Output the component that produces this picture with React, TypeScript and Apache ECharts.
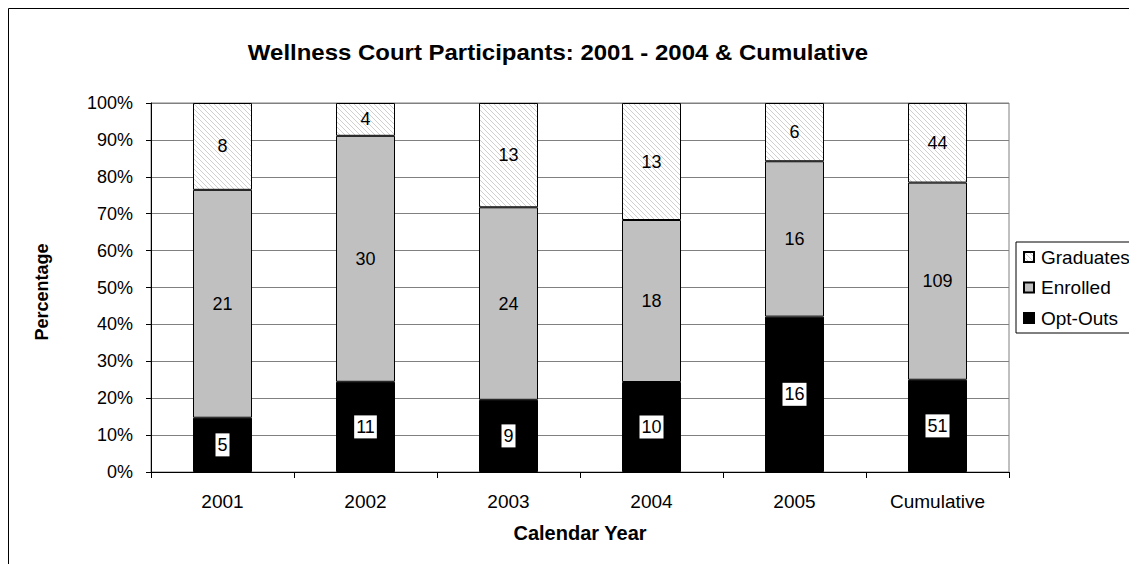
import React, { useEffect, useRef } from "react";
import * as echarts from "echarts";

const categories = ["2001", "2002", "2003", "2004", "2005", "Cumulative"];
const optOuts = [5, 11, 9, 10, 16, 51];
const enrolled = [21, 30, 24, 18, 16, 109];
const graduates = [8, 4, 13, 13, 6, 44];
const legendOrder = ["Graduates", "Enrolled", "Opt-Outs"];

const FONT = '"Liberation Sans", Arial, Helvetica, sans-serif';

function makeHatch() {
  const size = 5;
  const c = document.createElement("canvas");
  c.width = size;
  c.height = size;
  const ctx = c.getContext("2d")!;
  ctx.fillStyle = "#ffffff";
  ctx.fillRect(0, 0, size, size);
  ctx.strokeStyle = "#cfcfcf";
  ctx.lineWidth = 1;
  for (const k of [-size, 0, size]) {
    ctx.beginPath();
    ctx.moveTo(k, 0);
    ctx.lineTo(k + size, size);
    ctx.stroke();
  }
  return { url: c.toDataURL(), size };
}

export default function App() {
  const ref = useRef<HTMLDivElement>(null);

  useEffect(() => {
    if (!ref.current) return;
    const chart = echarts.init(ref.current, null, { renderer: "svg" });
    const totals = categories.map((_, i) => optOuts[i] + enrolled[i] + graduates[i]);
    const toData = (arr: number[]) =>
      arr.map((v, i) => ({ value: (v / totals[i]) * 100, count: v }));
    const hatch = makeHatch();
    const hatchFill: any = {
      image: hatch.url,
      repeat: "repeat",
      imageWidth: hatch.size,
      imageHeight: hatch.size,
    };

    const baseLabel = {
      show: true,
      position: "inside",
      color: "#000",
      fontSize: 18,
      fontFamily: FONT,
      formatter: (p: any) => String(p.data.count),
    };

    const option: any = {
      animation: false,
      backgroundColor: "#ffffff",
      textStyle: { fontFamily: FONT },
      grid: {
        left: 143,
        top: 95,
        right: 128,
        bottom: 92,
        show: true,
        borderColor: "#808080",
        borderWidth: 1,
        backgroundColor: "transparent",
      },
      legend: {
        data: legendOrder,
        orient: "vertical",
        left: 1008,
        top: 234,
        itemWidth: 10,
        itemHeight: 10,
        itemGap: 8.5,
        padding: [4, 6, 4, 7],
        borderColor: "#000",
        borderWidth: 1,
        backgroundColor: "#fff",
        icon: "rect",
        textStyle: {
          color: "#000",
          fontSize: 19,
          fontFamily: FONT,
          lineHeight: 22,
          padding: [0, 0, 0, 2],
        },
      },
      xAxis: {
        type: "category",
        data: categories,
        axisLine: { lineStyle: { color: "#000", width: 1 } },
        axisTick: { show: true, length: 6, lineStyle: { color: "#000" } },
        axisLabel: {
          color: "#000",
          fontSize: 19,
          fontFamily: FONT,
          margin: 19,
          lineHeight: 20,
        },
        splitLine: { show: false },
      },
      yAxis: {
        type: "value",
        min: 0,
        max: 100,
        interval: 10,
        axisLine: { show: true, lineStyle: { color: "#000", width: 1 } },
        axisTick: { show: true, length: 5, lineStyle: { color: "#000" } },
        axisLabel: {
          color: "#000",
          fontSize: 18,
          fontFamily: FONT,
          margin: 18,
          formatter: "{value}%",
        },
        splitLine: { show: true, lineStyle: { color: "#808080", width: 1 } },
      },
      series: [
        {
          name: "Opt-Outs",
          type: "bar",
          stack: "total",
          barWidth: 59,
          data: toData(optOuts),
          itemStyle: { color: "#000000", borderColor: "#000", borderWidth: 1 },
          label: {
            ...baseLabel,
            backgroundColor: "#ffffff",
            padding: [3, 2, 2, 2],
          },
        },
        {
          name: "Enrolled",
          type: "bar",
          stack: "total",
          barWidth: 59,
          data: toData(enrolled),
          itemStyle: { color: "#c0c0c0", borderColor: "#000", borderWidth: 1 },
          label: baseLabel,
        },
        {
          name: "Graduates",
          type: "bar",
          stack: "total",
          barWidth: 59,
          data: toData(graduates),
          itemStyle: { color: hatchFill, borderColor: "#000", borderWidth: 1 },
          label: baseLabel,
        },
      ],
      graphic: [
        {
          type: "rect",
          silent: true,
          z: -10,
          shape: { x: 0.5, y: 0.5, width: 1400, height: 800 },
          style: { fill: "none", stroke: "#000", lineWidth: 1 },
        },
        {
          type: "text",
          x: 550,
          y: 44,
          scaleX: 1.09,
          style: {
            text: "Wellness Court Participants: 2001 - 2004 & Cumulative",
            fontSize: 22,
            fontWeight: "bold",
            fontFamily: FONT,
            fill: "#000",
            align: "center",
            verticalAlign: "middle",
          },
        },
        {
          type: "text",
          x: 34,
          y: 284,
          rotation: Math.PI / 2,
          style: {
            text: "Percentage",
            fontSize: 18,
            fontWeight: "bold",
            fontFamily: FONT,
            fill: "#000",
            align: "center",
            verticalAlign: "middle",
          },
        },
        {
          type: "text",
          x: 572,
          y: 525,
          style: {
            text: "Calendar Year",
            fontSize: 20,
            fontWeight: "bold",
            fontFamily: FONT,
            fill: "#000",
            align: "center",
            verticalAlign: "middle",
          },
        },
      ],
    };

    chart.setOption(option);
    return () => chart.dispose();
  }, []);

  return <div ref={ref} style={{ width: 1129, height: 556 }} />;
}
